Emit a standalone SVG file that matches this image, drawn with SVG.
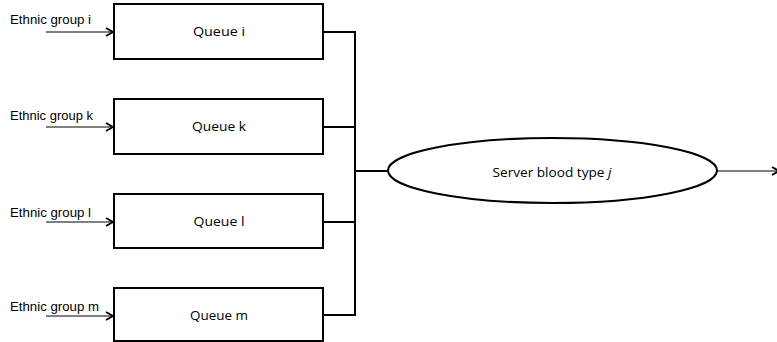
<svg xmlns="http://www.w3.org/2000/svg" width="777" height="342" viewBox="0 0 777 342">
  <defs>
    <marker id="chev" markerWidth="10" markerHeight="10" refX="8" refY="5" orient="auto" markerUnits="userSpaceOnUse">
      <path d="M1,1 L8,5 L1,9" fill="none" stroke="#000" stroke-width="1.8"/>
    </marker>
    <style>
      .box { fill: #fff; stroke: #000; stroke-width: 2; }
      .src { font-family: "Liberation Sans", Arial, sans-serif; font-size: 12.5px; fill: #000; }
      .lbl { font-family: "Open Sans", "Liberation Sans", sans-serif; font-size: 12.5px; fill: #000; text-anchor: middle; }
      .in { stroke: #000; stroke-width: 1; fill: none; marker-end: url(#chev); }
      .link { stroke: #000; stroke-width: 2; fill: none; }
    </style>
  </defs>

  <g id="connectors">
    <!-- inputs -->
    <line class="in" x1="46" y1="32" x2="113" y2="32"/>
    <line class="in" x1="46" y1="127" x2="113" y2="127"/>
    <line class="in" x1="46" y1="222" x2="113" y2="222"/>
    <line class="in" x1="46" y1="316" x2="113" y2="316"/>
    <!-- merge bus -->
    <path class="link" d="M323,32 H355 M323,127 H355 M323,222 H355 M323,315 H355 M355,31 V316 M355,171 H388"/>
    <!-- output -->
    <line class="in" x1="717" y1="171" x2="779" y2="171"/>
  </g>

  <g id="label-i"><text class="src" x="10" y="24" textLength="81" lengthAdjust="spacingAndGlyphs">Ethnic group i</text></g>
  <g id="label-k"><text class="src" x="10" y="120" textLength="83" lengthAdjust="spacingAndGlyphs">Ethnic group k</text></g>
  <g id="label-l"><text class="src" x="10" y="217" textLength="81" lengthAdjust="spacingAndGlyphs">Ethnic group l</text></g>
  <g id="label-m"><text class="src" x="10" y="311" textLength="89" lengthAdjust="spacingAndGlyphs">Ethnic group m</text></g>

  <g id="queue-i">
    <rect class="box" x="114" y="4" width="209" height="55"/>
    <text class="lbl" x="219" y="36" textLength="52" lengthAdjust="spacingAndGlyphs">Queue i</text>
  </g>
  <g id="queue-k">
    <rect class="box" x="114" y="99" width="209" height="55"/>
    <text class="lbl" x="219" y="131" textLength="54" lengthAdjust="spacingAndGlyphs">Queue k</text>
  </g>
  <g id="queue-l">
    <rect class="box" x="114" y="194" width="209" height="54"/>
    <text class="lbl" x="219" y="225.5" textLength="51" lengthAdjust="spacingAndGlyphs">Queue l</text>
  </g>
  <g id="queue-m">
    <rect class="box" x="114" y="288" width="209" height="53"/>
    <text class="lbl" x="219" y="320" textLength="58" lengthAdjust="spacingAndGlyphs">Queue m</text>
  </g>

  <g id="server">
    <ellipse class="box" cx="552.5" cy="170.5" rx="164.5" ry="32.5"/>
    <text class="lbl" x="552" y="177" textLength="119" lengthAdjust="spacingAndGlyphs">Server blood type <tspan font-style="italic">j</tspan></text>
  </g>
</svg>
